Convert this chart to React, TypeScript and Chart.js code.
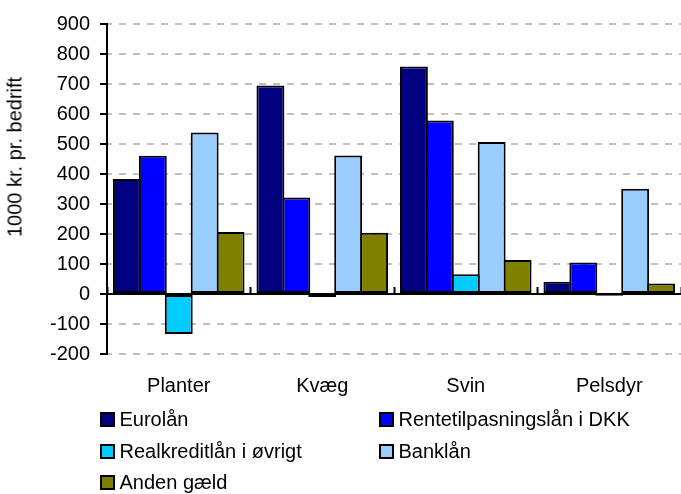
import React, { useEffect, useRef } from 'react';
import { Chart, registerables } from 'chart.js';

Chart.register(...registerables);

// ---- data ----
const categories = ['Planter', 'Kvæg', 'Svin', 'Pelsdyr'];
const seriesNames = [
  'Eurolån',
  'Rentetilpasningslån i DKK',
  'Realkreditlån i øvrigt',
  'Banklån',
  'Anden gæld',
];
const eurolaan = [383, 695, 758, 41];
const rentetilpasning = [461, 322, 578, 105];
const realkredit = [-133, -10, 66, -6];
const banklaan = [538, 462, 507, 351];
const andenGaeld = [207, 204, 113, 35];
const yAxisTitle = '1000 kr. pr. bedrift';
const yMin = -200;
const yMax = 900;
const yStep = 100;

// ---- styles ----
const seriesColors = ['#000080', '#0000FF', '#00CCFF', '#99CCFF', '#808000'];
const FONT = '"Liberation Sans", Arial, sans-serif';
const FONT_SIZE = 20;

export default function App() {
  const ref = useRef<HTMLCanvasElement>(null);

  useEffect(() => {
    document.body.style.margin = '0';
    const values = [eurolaan, rentetilpasning, realkredit, banklaan, andenGaeld];
    const chart = new Chart(ref.current as HTMLCanvasElement, {
      type: 'bar',
      data: {
        labels: categories,
        datasets: seriesNames.map((name, i) => ({
          label: name,
          data: values[i],
          backgroundColor: seriesColors[i],
          borderColor: '#000000',
          borderWidth: 2,
          borderSkipped: false,
          xAxisID: 'x',
          yAxisID: 'y',
          categoryPercentage: 0.903,
          barPercentage: 1.077,
        })),
      },
      options: {
        responsive: false,
        animation: false,
        events: [],
        layout: { padding: { top: 24, right: 0, bottom: 76, left: 0 } },
        plugins: {
          legend: { display: false },
          tooltip: { enabled: false },
          title: { display: false },
        },
        scales: {
          x: {
            type: 'category',
            position: 'bottom',
            grid: { display: false, drawTicks: false },
            border: { display: false },
            ticks: {
              color: '#000000',
              padding: 20,
              maxRotation: 0,
              autoSkip: false,
              font: { family: FONT, size: FONT_SIZE },
            },
          },
          x2: {
            type: 'category',
            position: { y: 0 },
            offset: true,
            ticks: { display: false },
            border: { display: false },
            grid: {
              display: true,
              offset: true,
              drawOnChartArea: false,
              drawTicks: true,
              tickLength: -7,
              tickColor: '#000000',
              tickWidth: 2,
            },
          },
          y: {
            type: 'linear',
            position: 'left',
            min: yMin,
            max: yMax,
            afterFit: (scale: any) => {
              scale.width = 107;
            },
            ticks: {
              stepSize: yStep,
              color: '#000000',
              padding: 10,
              font: { family: FONT, size: FONT_SIZE },
            },
            grid: {
              color: (ctx: any) => (ctx.tick && ctx.tick.value === 0 ? '#000000' : '#C0C0C0'),
              lineWidth: 2,
              tickColor: '#000000',
              tickWidth: 2,
              tickLength: 7,
              tickBorderDash: [],
            },
            border: {
              display: true,
              color: '#000000',
              width: 2,
              dash: (ctx: any) => (ctx.tick && ctx.tick.value === 0 ? [] : [7, 7]),
              dashOffset: 3,
            },
          },
        },
      } as any,
    });
    return () => chart.destroy();
  }, []);

  return (
    <div
      style={{
        position: 'relative',
        width: 681,
        height: 494,
        fontFamily: FONT,
        color: '#000',
        overflow: 'hidden',
      }}
    >
      <canvas ref={ref} width={681} height={494} style={{ display: 'block' }} />
      <div
        style={{
          position: 'absolute',
          left: 15,
          top: 156.5,
          transform: 'translate(-50%, -50%) rotate(-90deg)',
          fontSize: FONT_SIZE,
          whiteSpace: 'nowrap',
        }}
      >
        {yAxisTitle}
      </div>
      <div
        style={{
          position: 'absolute',
          left: 100,
          top: 412,
          display: 'grid',
          gridTemplateColumns: '279px auto',
          gridAutoRows: '15px',
          rowGap: '16.5px',
          fontSize: FONT_SIZE,
        }}
      >
        {seriesNames.map((name, i) => (
          <div
            key={name}
            style={{ display: 'flex', alignItems: 'center', height: 15, whiteSpace: 'nowrap' }}
          >
            <span
              style={{
                display: 'inline-block',
                width: 15,
                height: 15,
                boxSizing: 'border-box',
                border: '2px solid #000',
                background: seriesColors[i],
                marginRight: 4.5,
                flex: 'none',
              }}
            />
            <span style={{ lineHeight: '15px' }}>{name}</span>
          </div>
        ))}
      </div>
    </div>
  );
}
